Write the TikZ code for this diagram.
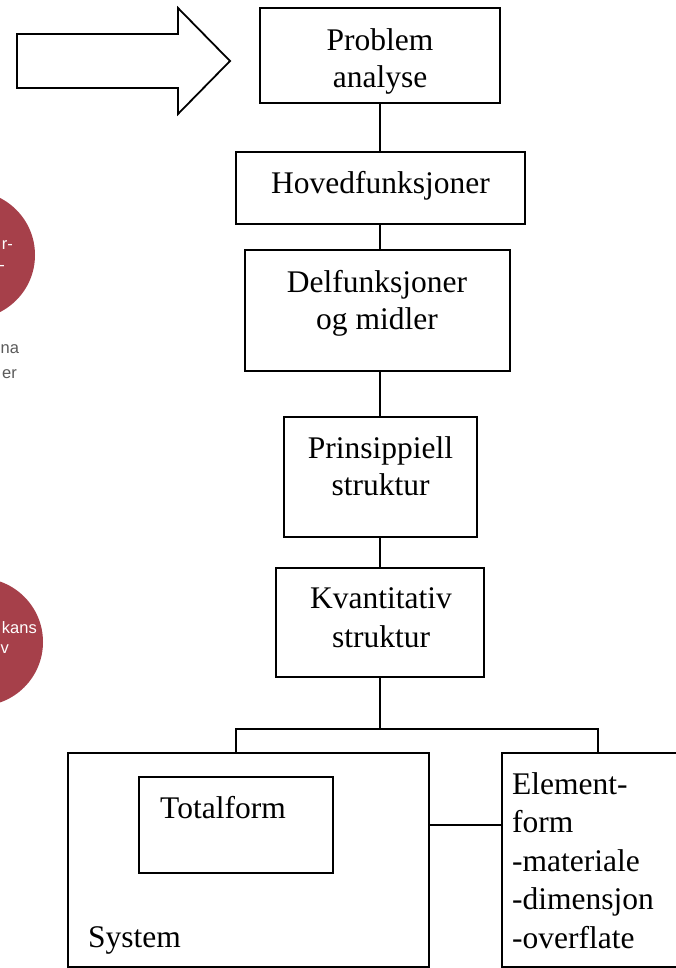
\documentclass[tikz,border=0pt]{standalone}
\usepackage{fontspec}
\setmainfont{Liberation Serif}
\newfontfamily\tagfont{Liberation Sans}
\newcommand\lnstrut{\rule{0pt}{25pt}}
\definecolor{disc}{HTML}{A6404A}
\definecolor{caption}{HTML}{5A5A5A}
\begin{document}
\begin{tikzpicture}[x=1pt,y=-1pt,
  box/.style={draw=black, line width=1.8pt, rectangle, inner sep=0pt},
  wire/.style={draw=black, line width=1.8pt},
  lbl/.style={inner sep=0pt, font=\fontsize{31.5}{37}\selectfont, align=center, anchor=north},
  disctext/.style={inner sep=0pt, text=white, font=\tagfont\fontsize{16.5}{20}\selectfont},
  captext/.style={inner sep=0pt, text=caption, font=\tagfont\fontsize{16.5}{20}\selectfont}]
\useasboundingbox (0,0) rectangle (676,968);
\fill[white] (0,0) rectangle (676,968);
\clip (0,0) rectangle (676,968);

% discs at the left margin
\fill[disc] (-29,255) circle[radius=64];
\fill[disc] (-21,642) circle[radius=64];
\node[disctext, anchor=base east] (d1a) at (13,250) {r-};
\node[disctext, anchor=base east] (d1b) at (5,270) {-};
\node[disctext, anchor=base east] (d2a) at (37,633) {kans};
\node[disctext, anchor=base east] (d2b) at (9,653) {v};
\node[captext, anchor=base west] (c1a) at (0.5,353) {na};
\node[captext, anchor=base east] (c1b) at (17,378) {er};

% block arrow pointing at the first step
\draw[line width=1.8pt, line join=miter, fill=white]
  (17,34) -- (178,34) -- (178,8) -- (230,61) -- (178,114) -- (178,88) -- (17,88) -- cycle;

% process boxes
\node[box, minimum width=240pt, minimum height=95pt] (pa) at (380,55.5) {};
\node[box, minimum width=289pt, minimum height=72pt] (hf) at (380.5,188) {};
\node[box, minimum width=265pt, minimum height=121pt] (df) at (377.5,310.5) {};
\node[box, minimum width=193pt, minimum height=120pt] (pr) at (380.5,477) {};
\node[box, minimum width=208pt, minimum height=109pt] (kv) at (380,622.5) {};
\node[box, minimum width=361pt, minimum height=214pt] (sys) at (248.5,860) {};
\node[box, minimum width=194pt, minimum height=96pt] (tf) at (236,825) {};
\node[box, minimum width=180pt, minimum height=214pt] (el) at (592,860) {};

% box texts
\node[lbl] (pat) at (380,25) {\lnstrut Problem\\analyse};
\node[lbl] (hft) at (380.5,168) {\lnstrut Hovedfunksjoner};
\node[lbl] (dft) at (377,267) {\lnstrut Delfunksjoner\\og midler};
\node[lbl] (prt) at (380.5,433) {\lnstrut Prinsippiell\\struktur};
\node[lbl, font=\fontsize{31.5}{39}\selectfont] (kvt) at (381,583) {\lnstrut Kvantitativ\\struktur};
\node[lbl, anchor=base west] (tft) at (160,818) {Totalform};
\node[lbl, anchor=base west] (syst) at (88,947) {System};
\node[lbl, anchor=north west, align=left, font=\fontsize{31.5}{38.5}\selectfont] (elt) at (512,769)
  {\lnstrut Element-\\form\\-materiale\\-dimensjon\\-overflate};

% connectors
\coordinate (spine) at (380,0);
\coordinate (bl) at (236,0);
\coordinate (br) at (598,0);
\coordinate (fork) at (380,729);
\coordinate (side) at (0,825);
\draw[wire] (spine |- pa.south) -- (spine |- hf.north);
\draw[wire] (spine |- hf.south) -- (spine |- df.north);
\draw[wire] (spine |- df.south) -- (spine |- pr.north);
\draw[wire] (spine |- pr.south) -- (spine |- kv.north);
\draw[wire] (spine |- kv.south) -- (fork);
\draw[wire] (sys.north -| bl) |- (fork) -| (el.north -| br);
\draw[wire] (sys.east |- side) -- (el.west |- side);
\end{tikzpicture}
\end{document}
